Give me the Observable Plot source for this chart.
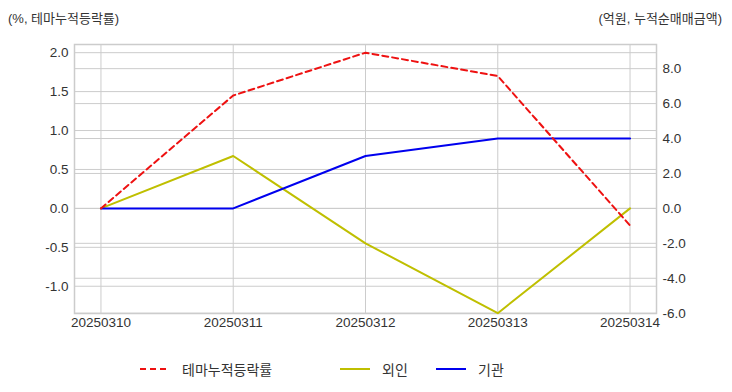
<!DOCTYPE html>
<html><head><meta charset="utf-8">
<script src="https://cdn.jsdelivr.net/npm/d3@7"></script>
<script src="https://cdn.jsdelivr.net/npm/@observablehq/plot@0.6"></script>
<style>
body{margin:0;background:#fff;font-family:"Liberation Sans",Arial,"Noto Sans CJK KR",sans-serif;}
#wrap{position:relative;width:732px;height:392px;}
.t{position:absolute;font-size:13px;color:#333;top:8px;}
#legend{position:absolute;top:359px;left:0;width:732px;height:20px;font-size:14px;color:#333;}
.li{position:absolute;top:0;display:flex;align-items:center;}
#chart{position:absolute;top:36px;left:0;}
</style></head><body>
<div id="wrap">
<div class="t" style="left:8px">(%, 테마누적등락률)</div>
<div class="t" style="right:10px">(억원, 누적순매매금액)</div>
<div id="chart"></div>
<div id="legend"></div>
</div>
<script>
const dates = ["20250310","20250311","20250312","20250313","20250314"];
const themeReturn = [0, 1.45, 2.0, 1.70, -0.22];
const foreign = [0, 3.0, -2.0, -6.0, 0];
const institution = [0, 0, 3.0, 4.0, 4.0];
const leftTicks = [-1.0, -0.5, 0, 0.5, 1.0, 1.5, 2.0];
const rightTicks = [-6, -4, -2, 0, 2, 4, 6, 8];

const k = 17.5 / 78; // right-axis units -> left-axis units
const idx = dates.map((d, i) => i);
const red = idx.map(i => ({x: i, y: themeReturn[i]}));
const ol = idx.map(i => ({x: i, y: foreign[i] * k}));
const bl = idx.map(i => ({x: i, y: institution[i] * k}));
const grid = "#cccccc";

const plot = Plot.plot({
  width: 732, height: 300,
  marginLeft: 74, marginRight: 76, marginTop: 8, marginBottom: 23,
  style: {fontFamily: "'Liberation Sans', Arial, sans-serif", fontSize: "13.5px", color: "#333", background: "#fff"},
  x: {domain: [-0.2, 4.2], axis: null},
  y: {domain: [-1.35, 2.105], axis: null},
  marks: [
    Plot.gridY(leftTicks, {stroke: grid, strokeOpacity: 1, strokeWidth: 1}),
    Plot.gridY(rightTicks.map(v => v * k), {stroke: grid, strokeOpacity: 1, strokeWidth: 1}),
    Plot.gridX(idx, {stroke: grid, strokeOpacity: 1, strokeWidth: 1}),
    Plot.frame({stroke: grid, strokeWidth: 1.5}),
    Plot.axisY(leftTicks, {anchor: "left", label: null, tickSize: 0, tickPadding: 6, tickFormat: d => d.toFixed(1), fontSize: 13.5, fill: "#333"}),
    Plot.axisY(rightTicks.map(v => v * k), {anchor: "right", label: null, tickSize: 0, tickPadding: 6, tickFormat: d => (Math.round(d / k)).toFixed(1), fontSize: 13.5, fill: "#333"}),
    Plot.axisX(idx, {anchor: "bottom", label: null, tickSize: 0, tickPadding: 4, tickFormat: i => dates[i], fontSize: 13.5, fill: "#333"}),
    Plot.line(ol, {x: "x", y: "y", stroke: "#bfbf00", strokeWidth: 2}),
    Plot.line(bl, {x: "x", y: "y", stroke: "#0000ee", strokeWidth: 2}),
    Plot.line(red, {x: "x", y: "y", stroke: "#ee1111", strokeWidth: 2, strokeDasharray: "6,4"})
  ]
});
document.getElementById("chart").appendChild(plot);

const items = [
  {label: "테마누적등락률", color: "#ee1111", dash: "6,4", left: 140},
  {label: "외인", color: "#bfbf00", dash: null, left: 340},
  {label: "기관", color: "#0000ee", dash: null, left: 436}
];
const leg = document.getElementById("legend");
items.forEach(it => {
  const d = document.createElement("div");
  d.className = "li";
  d.style.left = it.left + "px";
  d.innerHTML = `<svg width="30" height="20"><line x1="0" x2="30" y1="10" y2="10" stroke="${it.color}" stroke-width="2" ${it.dash ? `stroke-dasharray="${it.dash}"` : ""}/></svg><span style="margin-left:12px">${it.label}</span>`;
  leg.appendChild(d);
});
</script>
</body></html>
